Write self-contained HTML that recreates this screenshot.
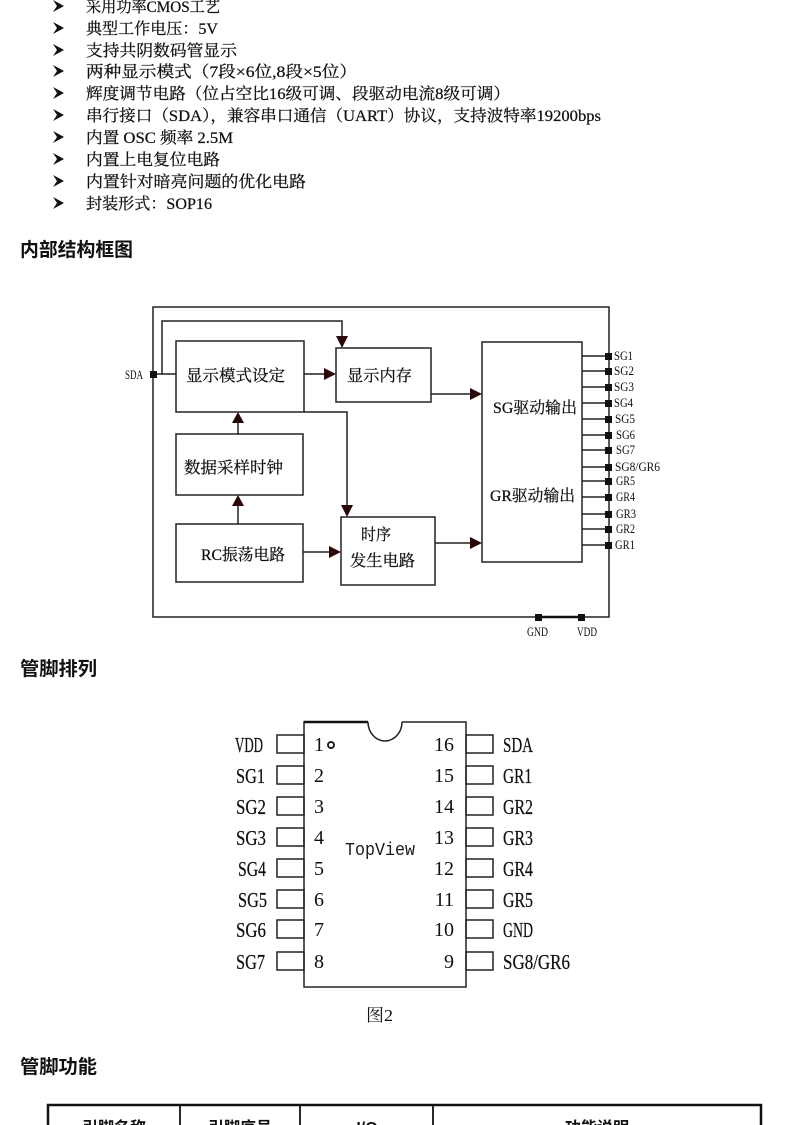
<!DOCTYPE html>
<html><head><meta charset="utf-8">
<style>
html,body{margin:0;padding:0;background:#fff;width:790px;height:1125px;overflow:hidden;}
svg{display:block;}
.s{font-family:"Liberation Serif","Noto Serif CJK SC",serif;fill:#111;}
.d{stroke:#111;stroke-width:0.25;}
.h{font-family:"Liberation Sans","Noto Sans CJK SC",sans-serif;font-weight:bold;fill:#111;}
.m{font-family:"Liberation Mono","Noto Serif CJK SC",monospace;fill:#1a1a1a;}
</style></head>
<body>
<svg width="790" height="1125" viewBox="0 0 790 1125" xmlns="http://www.w3.org/2000/svg">
<!-- bullet list -->
<g fill="#111">
<polygon points="53,0 64,6 53,12 57,6"/>
<polygon points="53,22 64,28 53,34 57,28"/>
<polygon points="53,44 64,50 53,56 57,50"/>
<polygon points="53,65 64,71 53,77 57,71"/>
<polygon points="53,87 64,93 53,99 57,93"/>
<polygon points="53,109 64,115 53,121 57,115"/>
<polygon points="53,131 64,137 53,143 57,137"/>
<polygon points="53,153 64,159 53,165 57,159"/>
<polygon points="53,175 64,181 53,187 57,181"/>
<polygon points="53,197 64,203 53,209 57,203"/>
</g>
<g class="s d" font-size="16">
<text x="86" y="12" textLength="134" lengthAdjust="spacingAndGlyphs">采用功率CMOS工艺</text>
<text x="86" y="34" textLength="132" lengthAdjust="spacingAndGlyphs">典型工作电压：5V</text>
<text x="86" y="56" textLength="151" lengthAdjust="spacingAndGlyphs">支持共阴数码管显示</text>
<text x="86" y="77" textLength="271" lengthAdjust="spacingAndGlyphs">两种显示模式（7段×6位,8段×5位）</text>
<text x="86" y="99" textLength="424" lengthAdjust="spacingAndGlyphs">辉度调节电路（位占空比16级可调、段驱动电流8级可调）</text>
<text x="86" y="121" textLength="515" lengthAdjust="spacingAndGlyphs">串行接口（SDA），兼容串口通信（UART）协议，支持波特率19200bps</text>
<text x="86" y="143" textLength="147" lengthAdjust="spacingAndGlyphs">内置 OSC 频率 2.5M</text>
<text x="86" y="165" textLength="134" lengthAdjust="spacingAndGlyphs">内置上电复位电路</text>
<text x="86" y="187" textLength="220" lengthAdjust="spacingAndGlyphs">内置针对暗亮问题的优化电路</text>
<text x="86" y="209" textLength="126" lengthAdjust="spacingAndGlyphs">封装形式：SOP16</text>
</g>

<!-- headings -->
<text class="h" x="20" y="256" font-size="19" textLength="113" lengthAdjust="spacingAndGlyphs">内部结构框图</text>
<text class="h" x="20" y="675" font-size="19" textLength="77" lengthAdjust="spacingAndGlyphs">管脚排列</text>
<text class="h" x="20" y="1073" font-size="19" textLength="77" lengthAdjust="spacingAndGlyphs">管脚功能</text>

<!-- block diagram -->
<g stroke="#222" stroke-width="1.5" fill="none">
<rect x="153" y="307" width="456" height="310"/>
<rect x="176" y="341" width="128" height="71"/>
<rect x="336" y="348" width="95" height="54"/>
<rect x="176" y="434" width="127" height="61"/>
<rect x="176" y="524" width="127" height="58"/>
<rect x="341" y="517" width="94" height="68"/>
<rect x="482" y="342" width="100" height="220"/>
<polyline points="153,374 176,374"/>
<polyline points="162,374 162,321 342,321 342,338"/>
<line x1="304" y1="374" x2="327" y2="374"/>
<line x1="238" y1="434" x2="238" y2="420"/>
<line x1="238" y1="524" x2="238" y2="504"/>
<polyline points="304,412 347,412 347,508"/>
<line x1="303" y1="552" x2="332" y2="552"/>
<line x1="431" y1="394" x2="473" y2="394"/>
<line x1="435" y1="543" x2="473" y2="543"/>
<line x1="582" y1="356" x2="606" y2="356"/>
<line x1="582" y1="371" x2="606" y2="371"/>
<line x1="582" y1="387" x2="606" y2="387"/>
<line x1="582" y1="403" x2="606" y2="403"/>
<line x1="582" y1="419" x2="606" y2="419"/>
<line x1="582" y1="435" x2="606" y2="435"/>
<line x1="582" y1="450" x2="606" y2="450"/>
<line x1="582" y1="467" x2="606" y2="467"/>
<line x1="582" y1="481" x2="606" y2="481"/>
<line x1="582" y1="497" x2="606" y2="497"/>
<line x1="582" y1="514" x2="606" y2="514"/>
<line x1="582" y1="529" x2="606" y2="529"/>
<line x1="582" y1="545" x2="606" y2="545"/>
</g>
<line x1="538" y1="617" x2="581" y2="617" stroke="#111" stroke-width="2.5"/>
<!-- arrowheads -->
<g fill="#2a0808">
<polygon points="342,348 336,336 348,336"/>
<polygon points="336,374 324,368 324,380"/>
<polygon points="238,412 232,423 244,423"/>
<polygon points="238,495 232,506 244,506"/>
<polygon points="347,517 341,505 353,505"/>
<polygon points="341,552 329,546 329,558"/>
<polygon points="482,394 470,388 470,400"/>
<polygon points="482,543 470,537 470,549"/>
</g>
<!-- pin squares -->
<g fill="#111">
<rect x="150" y="371" width="7" height="7"/>
<rect x="605" y="353" width="7" height="7"/>
<rect x="605" y="368" width="7" height="7"/>
<rect x="605" y="384" width="7" height="7"/>
<rect x="605" y="400" width="7" height="7"/>
<rect x="605" y="416" width="7" height="7"/>
<rect x="605" y="432" width="7" height="7"/>
<rect x="605" y="447" width="7" height="7"/>
<rect x="605" y="464" width="7" height="7"/>
<rect x="605" y="478" width="7" height="7"/>
<rect x="605" y="494" width="7" height="7"/>
<rect x="605" y="511" width="7" height="7"/>
<rect x="605" y="526" width="7" height="7"/>
<rect x="605" y="542" width="7" height="7"/>
<rect x="535" y="614" width="7" height="7"/>
<rect x="578" y="614" width="7" height="7"/>
</g>
<g class="s" font-size="12.5">
<text x="125" y="379" textLength="18" lengthAdjust="spacingAndGlyphs">SDA</text>
<text x="614" y="360" textLength="19" lengthAdjust="spacingAndGlyphs">SG1</text>
<text x="614" y="375" textLength="20" lengthAdjust="spacingAndGlyphs">SG2</text>
<text x="614" y="391" textLength="20" lengthAdjust="spacingAndGlyphs">SG3</text>
<text x="614" y="407" textLength="19" lengthAdjust="spacingAndGlyphs">SG4</text>
<text x="615" y="423" textLength="20" lengthAdjust="spacingAndGlyphs">SG5</text>
<text x="616" y="439" textLength="19" lengthAdjust="spacingAndGlyphs">SG6</text>
<text x="616" y="454" textLength="19" lengthAdjust="spacingAndGlyphs">SG7</text>
<text x="615" y="471" textLength="45" lengthAdjust="spacingAndGlyphs">SG8/GR6</text>
<text x="616" y="485" textLength="19" lengthAdjust="spacingAndGlyphs">GR5</text>
<text x="616" y="501" textLength="19" lengthAdjust="spacingAndGlyphs">GR4</text>
<text x="616" y="518" textLength="20" lengthAdjust="spacingAndGlyphs">GR3</text>
<text x="616" y="533" textLength="19" lengthAdjust="spacingAndGlyphs">GR2</text>
<text x="615" y="549" textLength="20" lengthAdjust="spacingAndGlyphs">GR1</text>
<text x="527" y="636" textLength="21" lengthAdjust="spacingAndGlyphs">GND</text>
<text x="577" y="636" textLength="20" lengthAdjust="spacingAndGlyphs">VDD</text>
</g>
<g class="s d" font-size="16">
<text x="186" y="381" textLength="99" lengthAdjust="spacingAndGlyphs">显示模式设定</text>
<text x="347" y="381" textLength="65" lengthAdjust="spacingAndGlyphs">显示内存</text>
<text x="184" y="473" textLength="99" lengthAdjust="spacingAndGlyphs">数据采样时钟</text>
<text x="201" y="560" textLength="84" lengthAdjust="spacingAndGlyphs">RC振荡电路</text>
<text x="361" y="540" textLength="30" lengthAdjust="spacingAndGlyphs">时序</text>
<text x="350" y="566" textLength="65" lengthAdjust="spacingAndGlyphs">发生电路</text>
<text x="493" y="413" textLength="84" lengthAdjust="spacingAndGlyphs">SG驱动输出</text>
<text x="490" y="501" textLength="85" lengthAdjust="spacingAndGlyphs">GR驱动输出</text>
</g>

<!-- pinout -->
<g stroke="#222" stroke-width="1.5" fill="none">
<path d="M368,722 L304,722 L304,987 L466,987 L466,722 L402,722"/>
<path d="M368,722 A17,19 0 0 0 402,722"/>
<rect x="277" y="735" width="27" height="18"/>
<rect x="277" y="766" width="27" height="18"/>
<rect x="277" y="797" width="27" height="18"/>
<rect x="277" y="828" width="27" height="18"/>
<rect x="277" y="859" width="27" height="18"/>
<rect x="277" y="890" width="27" height="18"/>
<rect x="277" y="920" width="27" height="18"/>
<rect x="277" y="952" width="27" height="18"/>
<rect x="466" y="735" width="27" height="18"/>
<rect x="466" y="766" width="27" height="18"/>
<rect x="466" y="797" width="27" height="18"/>
<rect x="466" y="828" width="27" height="18"/>
<rect x="466" y="859" width="27" height="18"/>
<rect x="466" y="890" width="27" height="18"/>
<rect x="466" y="920" width="27" height="18"/>
<rect x="466" y="952" width="27" height="18"/>
<circle cx="331" cy="745" r="3" stroke-width="2"/>
</g>
<line x1="304" y1="722" x2="368" y2="722" stroke="#111" stroke-width="2.5"/>
<g class="s d" font-size="21">
<text x="235" y="752" textLength="28" lengthAdjust="spacingAndGlyphs">VDD</text>
<text x="236" y="783" textLength="29" lengthAdjust="spacingAndGlyphs">SG1</text>
<text x="236" y="814" textLength="30" lengthAdjust="spacingAndGlyphs">SG2</text>
<text x="236" y="845" textLength="30" lengthAdjust="spacingAndGlyphs">SG3</text>
<text x="238" y="876" textLength="28" lengthAdjust="spacingAndGlyphs">SG4</text>
<text x="238" y="907" textLength="29" lengthAdjust="spacingAndGlyphs">SG5</text>
<text x="236" y="937" textLength="30" lengthAdjust="spacingAndGlyphs">SG6</text>
<text x="236" y="969" textLength="29" lengthAdjust="spacingAndGlyphs">SG7</text>
<text x="503" y="752" textLength="30" lengthAdjust="spacingAndGlyphs">SDA</text>
<text x="503" y="783" textLength="29" lengthAdjust="spacingAndGlyphs">GR1</text>
<text x="503" y="814" textLength="30" lengthAdjust="spacingAndGlyphs">GR2</text>
<text x="503" y="845" textLength="30" lengthAdjust="spacingAndGlyphs">GR3</text>
<text x="503" y="876" textLength="30" lengthAdjust="spacingAndGlyphs">GR4</text>
<text x="503" y="907" textLength="30" lengthAdjust="spacingAndGlyphs">GR5</text>
<text x="503" y="937" textLength="30" lengthAdjust="spacingAndGlyphs">GND</text>
<text x="503" y="969" textLength="67" lengthAdjust="spacingAndGlyphs">SG8/GR6</text>
</g>
<g class="s" font-size="20">
<text x="314" y="751">1</text>
<text x="314" y="782">2</text>
<text x="314" y="813">3</text>
<text x="314" y="844">4</text>
<text x="314" y="875">5</text>
<text x="314" y="906">6</text>
<text x="314" y="936">7</text>
<text x="314" y="968">8</text>
<g text-anchor="end">
<text x="454" y="751">16</text>
<text x="454" y="782">15</text>
<text x="454" y="813">14</text>
<text x="454" y="844">13</text>
<text x="454" y="875">12</text>
<text x="454" y="906">11</text>
<text x="454" y="936">10</text>
<text x="454" y="968">9</text>
</g>
</g>
<text class="m" x="345" y="855" font-size="18" textLength="70" lengthAdjust="spacingAndGlyphs">TopView</text>
<text class="s" x="366" y="1021" font-size="17" textLength="27" lengthAdjust="spacingAndGlyphs">图2</text>

<!-- table -->
<g stroke="#111" stroke-width="2.5" fill="none">
<polyline points="48,1126 48,1105 761,1105 761,1126"/>
<line x1="180" y1="1105" x2="180" y2="1126" stroke-width="1.8"/>
<line x1="300" y1="1105" x2="300" y2="1126" stroke-width="1.8"/>
<line x1="433" y1="1105" x2="433" y2="1126" stroke-width="1.8"/>
</g>
<g class="h" font-size="16" text-anchor="middle">
<text x="114" y="1133">引脚名称</text>
<text x="240" y="1133">引脚序号</text>
<text x="367" y="1133">I/O</text>
<text x="597" y="1133">功能说明</text>
</g>
</svg>
</body></html>
